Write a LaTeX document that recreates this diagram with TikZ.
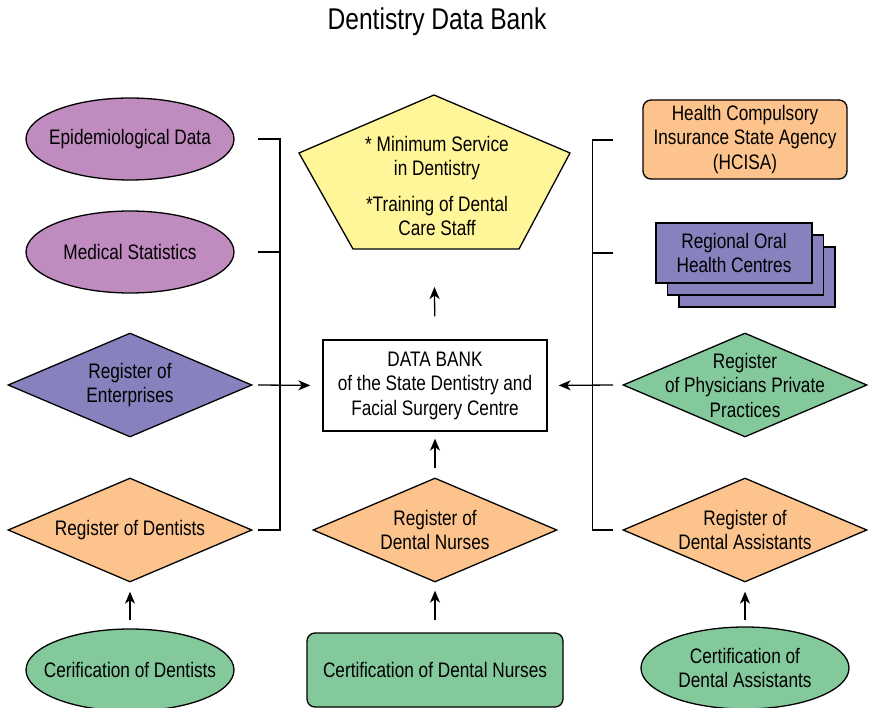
\documentclass[tikz,border=0pt]{standalone}
\usepackage{fontspec}
\setmainfont[FakeStretch=0.82]{Liberation Sans}
\usetikzlibrary{shapes.geometric,arrows.meta}
\definecolor{cpink}{HTML}{C08BBE}
\definecolor{cblue}{HTML}{8781BE}
\definecolor{corange}{HTML}{FDC38D}
\definecolor{cgreen}{HTML}{84C99C}
\definecolor{cyellow}{HTML}{FFF599}
\begin{document}
\begin{tikzpicture}[x=1pt,y=-1pt,
  every node/.style={font=\fontsize{21}{24.5}\selectfont},
  txt/.style={align=center,inner sep=0pt,font=\fontsize{21}{24.5}\selectfont},
  ell/.style={ellipse,draw,line width=1.3pt,inner sep=0pt,minimum width=208,minimum height=82},
  dia/.style={diamond,draw,line width=1.3pt,inner sep=0pt,aspect=2.35,minimum width=244,minimum height=104},
  box/.style={rectangle,draw,line width=1.3pt,inner sep=0pt,align=center},
  rbox/.style={box,rounded corners=8pt},
  conn/.style={line width=1.3pt},
  arr/.style={line width=1.3pt,-{Stealth[length=12pt,width=10pt,inset=3.5pt]}}
]
\useasboundingbox (0,0) rectangle (870,708);
\node[font=\fontsize{30}{34}\selectfont] (title) at (437,22) {Dentistry Data Bank};

% left column
\node[ell,fill=cpink,label={[txt]center:Epidemiological Data}] (epi) at (130,139) {};
\node[ell,fill=cpink,label={[txt]center:Medical Statistics}] (med) at (130,252) {};
\node[dia,fill=cblue,label={[txt]center:{Register of\\Enterprises}}] (ent) at (130,385) {};
\node[dia,fill=corange,label={[txt]center:Register of Dentists}] (rden) at (130,530) {};
\node[ell,fill=cgreen,label={[txt]center:Cerification of Dentists}] (cden) at (130,670) {};

% centre column
\draw[line width=1.3pt,fill=cyellow] (434,95) -- (570,153) -- (519,249) -- (353,249) -- (299,153) -- cycle;
\node[txt] (goal) at (437,186) {* Minimum Service\\in Dentistry\\[11pt]*Training of Dental\\Care Staff};
\coordinate (goalb) at (434,249);
\node[box,fill=white,minimum width=224,minimum height=91] (bank) at (435,385.5) {DATA BANK\\of the State Dentistry and\\Facial Surgery Centre};
\node[dia,fill=corange,label={[txt]center:{Register of\\Dental Nurses}}] (rnur) at (435,530) {};
\node[rbox,fill=cgreen,minimum width=256,minimum height=74] (cnur) at (435,670) {Certification of Dental Nurses};

% right column
\node[rbox,fill=corange,minimum width=204,minimum height=79] (hcisa) at (745,139.5) {Health Compulsory\\Insurance State Agency\\(HCISA)};
\node[box,fill=cblue,minimum width=156,minimum height=60] (reg3) at (757,277) {};
\node[box,fill=cblue,minimum width=156,minimum height=60] (reg2) at (745.5,265) {};
\node[box,fill=cblue,minimum width=156,minimum height=60] (reg) at (734,253) {Regional Oral\\Health Centres};
\node[dia,fill=cgreen,label={[txt]center:{Register\\of Physicians Private\\Practices}}] (phys) at (745,385) {};
\node[dia,fill=corange,label={[txt]center:{Register of\\Dental Assistants}}] (rass) at (745,530) {};
\node[ell,fill=cgreen,label={[txt]center:{Certification of\\Dental Assistants}}] (cass) at (745,668) {};

% left bracket
\coordinate (l1) at (258,139);
\coordinate (l2) at (258,252);
\coordinate (l3) at (258,385);
\coordinate (l4) at (258,530);
\draw[conn] (l1) -| (280,530) -- (l4);
\draw[conn] (l2) -- (280,252);
\draw[arr,shorten >=12pt] (l3) -- (bank.west);
% right bracket
\coordinate (r1) at (613,140);
\coordinate (r2) at (613,253);
\coordinate (r3) at (613,385);
\coordinate (r4) at (613,530);
\draw[conn] (r1) -| (592.5,530) -- (r4);
\draw[conn] (r2) -- (592.5,253);
\draw[arr,shorten >=11pt] (r3) -- (bank.east);

% vertical arrows
\draw[arr,shorten <=23pt,shorten >=38pt] (bank.north) -- (goalb);
\draw[arr,shorten <=9pt,shorten >=7pt] (rnur.north) -- (bank.south);
\draw[arr,shorten <=12pt,shorten >=8pt] (cnur.north) -- (rnur.south);
\draw[arr,shorten <=8pt,shorten >=9pt] (cden.north) -- (rden.south);
\draw[arr,shorten <=6pt,shorten >=9pt] (cass.north) -- (rass.south);
\end{tikzpicture}
\end{document}
